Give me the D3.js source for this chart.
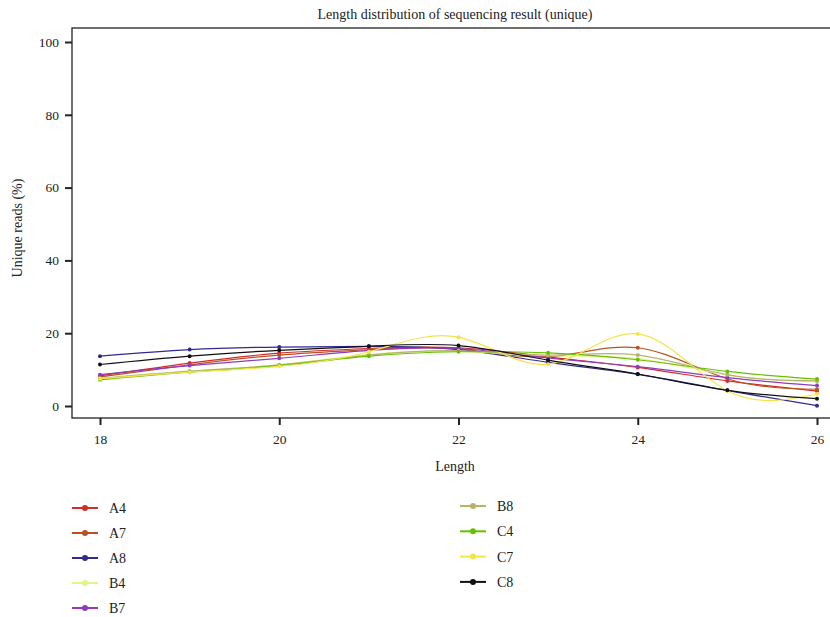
<!DOCTYPE html>
<html>
<head>
<meta charset="utf-8">
<script src="https://cdn.jsdelivr.net/npm/d3@7"></script>
<style>
body{margin:0;background:#fff;}
text{font-family:"Liberation Serif","DejaVu Serif",serif;fill:#222;}
</style>
</head>
<body>
<div id="chart"></div>
<script>
var lengths = [18,19,20,21,22,23,24,25,26];
var names = ["A4","A7","A8","B4","B7","B8","C4","C7","C8"];
var colors = ["#d42a2a","#b8531f","#332a8c","#e6f28c","#8e3bbd","#b6b46c","#66c000","#f4e44c","#111111"];
var A4 = [8.3,11.8,14.5,15.8,16.0,13.5,10.6,6.9,4.1];
var A7 = [8.0,11.3,14.0,15.5,15.7,13.5,16.0,7.5,4.6];
var A8 = [13.7,15.5,16.2,16.4,15.5,12.0,8.7,4.3,0.1];
var B4 = [7.4,9.5,11.3,14.2,15.0,13.8,13.0,8.5,6.6];
var B7 = [8.6,11.1,13.1,15.3,15.8,13.2,10.8,7.8,5.6];
var B8 = [7.6,9.6,11.3,14.0,15.2,14.0,14.0,8.6,6.9];
var C4 = [7.2,9.3,11.1,13.7,14.9,14.6,12.7,9.5,7.4];
var C7 = [7.5,9.3,10.9,14.9,18.9,11.5,19.8,4.2,3.3];
var C8 = [11.4,13.7,15.3,16.4,16.6,12.6,8.8,4.3,2.0];
var xTicks = [18,20,22,24,26];
var yTicks = [0,20,40,60,80,100];

var series = [A4,A7,A8,B4,B7,B8,C4,C7,C8];

var W = 830, H = 617;
var svg = d3.select("#chart").append("svg").attr("width",W).attr("height",H);

var pLeft = 72, pTop = 28, pBottom = 418, pRight = 836;
var x = d3.scaleLinear().domain([18,26]).range([100,817]);
var y = d3.scaleLinear().domain([0,100]).range([406,42]);

// frame
svg.append("rect")
	.attr("x",pLeft).attr("y",pTop)
	.attr("width",pRight-pLeft).attr("height",pBottom-pTop)
	.attr("fill","none").attr("stroke","#222").attr("stroke-width",1.3);

// axes
var yAxis = svg.append("g").attr("transform","translate("+pLeft+",0)")
	.call(d3.axisLeft(y).tickValues(yTicks).tickSize(7).tickPadding(6));
var xAxis = svg.append("g").attr("transform","translate(0,"+pBottom+")")
	.call(d3.axisBottom(x).tickValues(xTicks).tickSize(7).tickPadding(9));
[yAxis,xAxis].forEach(function(a){
	a.attr("font-family","Liberation Serif");
	a.select(".domain").remove();
	a.selectAll("line").attr("stroke","#222").attr("stroke-width",2);
	a.selectAll("text").attr("font-size",13.5).attr("fill","#222");
});

svg.append("text").attr("x",455).attr("y",19).attr("text-anchor","middle")
	.attr("font-size",14).text("Length distribution of sequencing result (unique)");
svg.append("text").attr("x",455).attr("y",471).attr("text-anchor","middle")
	.attr("font-size",14).text("Length");
svg.append("text").attr("transform","translate(22,228) rotate(-90)")
	.attr("text-anchor","middle").attr("font-size",14).text("Unique reads (%)");

var line = d3.line()
	.x(function(d,i){return x(lengths[i]);})
	.y(function(d){return y(d);})
	.curve(d3.curveNatural);

var plot = svg.append("g");
series.forEach(function(s,k){
	plot.append("path").datum(s)
		.attr("d",line)
		.attr("fill","none")
		.attr("stroke",colors[k])
		.attr("stroke-width",1.2);
	plot.selectAll(".p"+k).data(s).enter().append("circle")
		.attr("cx",function(d,i){return x(lengths[i]);})
		.attr("cy",function(d){return y(d);})
		.attr("r",2)
		.attr("fill",colors[k]);
});

// legend
var leg = svg.append("g");
names.forEach(function(n,k){
	var col = k<5 ? 0 : 1;
	var row = k<5 ? k : k-5;
	var lx = col==0 ? 72 : 460;
	var ly = col==0 ? 508+row*25 : 506+row*25.3;
	leg.append("line").attr("x1",lx).attr("x2",lx+26).attr("y1",ly).attr("y2",ly)
		.attr("stroke",colors[k]).attr("stroke-width",2);
	leg.append("circle").attr("cx",lx+13).attr("cy",ly).attr("r",3).attr("fill",colors[k]);
	leg.append("text").attr("x",lx+37).attr("y",ly+5).attr("font-size",14).text(n);
});
</script>
</body>
</html>
